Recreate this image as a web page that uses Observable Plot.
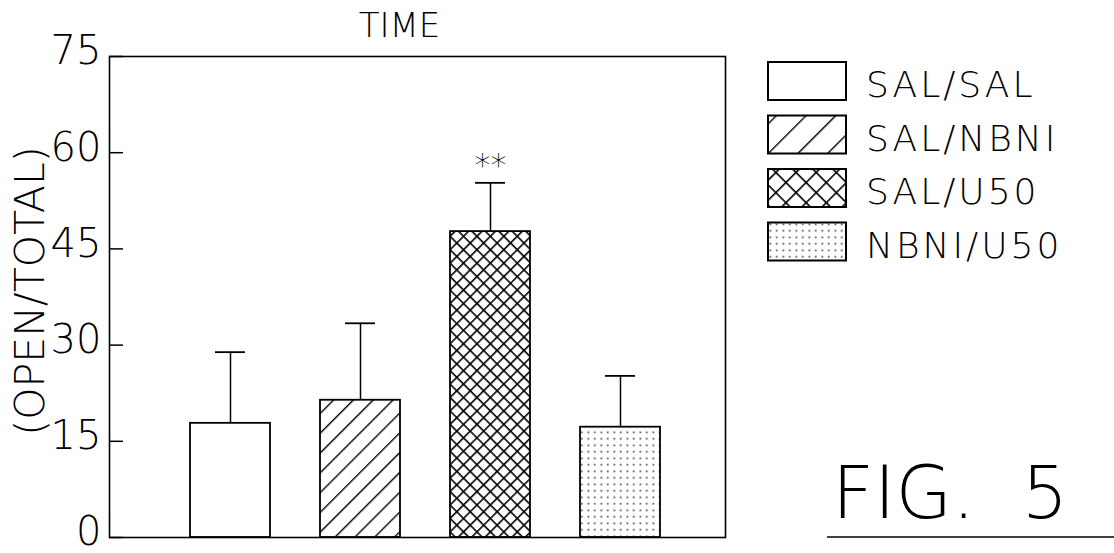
<!DOCTYPE html>
<html>
<head>
<meta charset="utf-8">
<script src="https://cdn.jsdelivr.net/npm/d3@7"></script>
<script src="https://cdn.jsdelivr.net/npm/@observablehq/plot@0.6"></script>
<style>
  html, body { margin: 0; padding: 0; background: #fff; }
  #chart { width: 1114px; height: 553px; }
  svg text { font-family: "DejaVu Sans ExtraLight", "DejaVu Sans", sans-serif; font-weight: 200; }
</style>
</head>
<body>
<div id="chart"></div>
<script>
// ---- data ----
const categories = ["SAL/SAL", "SAL/NBNI", "SAL/U50", "NBNI/U50"];
const means = [17.8, 21.4, 47.7, 17.2];
const errors = [11.1, 12.0, 7.6, 8.0];
const stars = ["", "", "**", ""];
const yTicks = [0, 15, 30, 45, 60, 75];
const patternIds = ["p-open", "p-hatch", "p-cross", "p-dots"];
const title = "TIME";
const yLabel = "(OPEN/TOTAL)";
const figLabel = "FIG.  5";

const rows = categories.map((c, i) => ({cat: c, mean: means[i], top: means[i] + errors[i], star: stars[i], pat: patternIds[i]}));

const font = "DejaVu Sans ExtraLight, DejaVu Sans, sans-serif";

const plot = Plot.plot({
  width: 1114,
  height: 553,
  marginLeft: 109,
  marginRight: 389,
  marginTop: 56,
  marginBottom: 16,
  style: {background: "#fff", color: "#000", fontFamily: font},
  x: {domain: categories, paddingInner: 0.387, paddingOuter: 0.553, align: 0.557, axis: null},
  y: {domain: [0, 75], axis: null},
  marks: [
    ...rows.map(r => Plot.barY([r], {x: "cat", y: "mean", fill: `url(#${r.pat})`, stroke: "#000", strokeWidth: 1.8})),
    Plot.ruleX(rows, {x: "cat", y1: "mean", y2: "top", stroke: "#000", strokeWidth: 1.5}),
    Plot.tickY(rows, {x: "cat", y: "top", insetLeft: 25, insetRight: 25, stroke: "#000", strokeWidth: 1.8}),
    Plot.text(rows, {x: "cat", y: "top", text: "star", dy: -17, fontSize: 32, fill: "#000", fontFamily: "DejaVu Sans, sans-serif", fontWeight: 300, letterSpacing: 2}),
    Plot.ruleY(yTicks, {y: d => d, insetRight: 602, stroke: "#000", strokeWidth: 1.5}),
    Plot.axisY(yTicks, {tickSize: 0, tickPadding: 8, fontSize: 40, fontWeight: 200, dy: -5, letterSpacing: 3, tickFormat: d => String(d), label: null}),
    Plot.frame({stroke: "#000", strokeWidth: 1.6}),
    Plot.text([yLabel], {frameAnchor: "left", textAnchor: "middle", dx: -79, dy: -6, rotate: -90, fontSize: 41, fontWeight: 200, fill: "#000"}),
    Plot.text([title], {frameAnchor: "top", dx: -18, dy: -20, lineAnchor: "bottom", fontSize: 34, fontWeight: 200, fill: "#000"})
  ]
});

document.getElementById("chart").appendChild(plot);

const svg = d3.select(plot);
const defs = svg.insert("defs", ":first-child");

function makePatterns(suffix, s) {
  // open
  defs.append("pattern").attr("id", "p-open" + suffix).attr("patternUnits", "userSpaceOnUse")
    .attr("width", 10).attr("height", 10)
    .append("rect").attr("width", 10).attr("height", 10).attr("fill", "#fff");
  // diagonal hatch
  const h = 14 * s;
  const ph = defs.append("pattern").attr("id", "p-hatch" + suffix).attr("patternUnits", "userSpaceOnUse")
    .attr("width", h).attr("height", h).attr("patternTransform", "rotate(45)");
  ph.append("rect").attr("width", h).attr("height", h).attr("fill", "#fff");
  ph.append("line").attr("x1", 0).attr("y1", 0).attr("x2", 0).attr("y2", h).attr("stroke", "#000").attr("stroke-width", 2.8);
  // cross hatch
  const c = 9.5 * s;
  const pc = defs.append("pattern").attr("id", "p-cross" + suffix).attr("patternUnits", "userSpaceOnUse")
    .attr("width", c).attr("height", c).attr("patternTransform", "rotate(45)");
  pc.append("rect").attr("width", c).attr("height", c).attr("fill", "#fff");
  pc.append("line").attr("x1", 0).attr("y1", 0).attr("x2", 0).attr("y2", c).attr("stroke", "#000").attr("stroke-width", 3.2);
  pc.append("line").attr("x1", 0).attr("y1", 0).attr("x2", c).attr("y2", 0).attr("stroke", "#000").attr("stroke-width", 3.2);
  // dots
  const d = 6.5;
  const pd = defs.append("pattern").attr("id", "p-dots" + suffix).attr("patternUnits", "userSpaceOnUse")
    .attr("width", d).attr("height", d);
  pd.append("rect").attr("width", d).attr("height", d).attr("fill", "#fff");
  pd.append("rect").attr("x", 2.5).attr("y", 2.5).attr("width", 1.6).attr("height", 1.6).attr("fill", "#333");
}
makePatterns("", 1);
makePatterns("-lg", 1.5);

// legend
const lg = svg.append("g").attr("class", "legend");
categories.forEach((c, i) => {
  const y0 = 62 + i * 53.5;
  lg.append("rect").attr("x", 768).attr("y", y0).attr("width", 78).attr("height", 38)
    .attr("fill", `url(#${patternIds[i]}-lg)`).attr("stroke", "#000").attr("stroke-width", 2);
  lg.append("text").attr("x", 866).attr("y", y0 + 35).attr("font-size", 36)
    .attr("text-anchor", "start").attr("letter-spacing", 3)
    .attr("fill", "#000").text(c);
});

// figure label
svg.append("text").attr("x", 832).attr("y", 518).attr("font-size", 73).attr("fill", "#000")
  .attr("text-anchor", "start")
  .attr("xml:space", "preserve").style("white-space", "pre").text(figLabel);
svg.append("line").attr("x1", 827).attr("x2", 1114).attr("y1", 537).attr("y2", 537)
  .attr("stroke", "#000").attr("stroke-width", 1.5);
</script>
</body>
</html>
